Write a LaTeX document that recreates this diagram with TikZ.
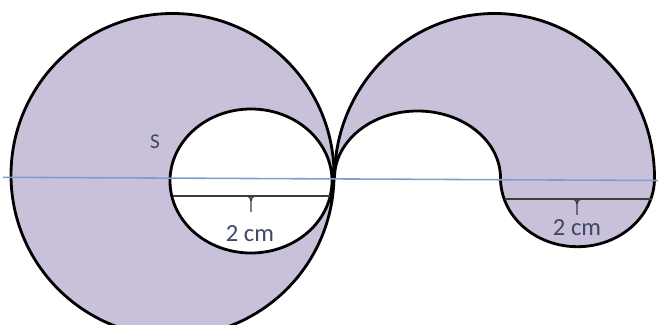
\documentclass[tikz,border=0pt]{standalone}
\usepackage{fontspec}
\setmainfont{Carlito}
\definecolor{ringfill}{HTML}{C9C0DA}
\definecolor{axisblue}{HTML}{7E9ED0}
\definecolor{radgrey}{HTML}{3C3C3C}
\definecolor{labtext}{HTML}{3D4766}

\begin{document}
\begin{tikzpicture}[x=0.02cm, y=0.02cm,
    region/.style={draw=black,line width=1.6pt,fill=ringfill},
    axis/.style={draw=axisblue,line width=0.9pt},
    rad/.style={draw=radgrey,line width=0.8pt},
    lbl/.style={text=labtext,inner sep=0pt,font=\fontsize{14}{16}\selectfont}]
    \useasboundingbox (0,0) rectangle (658,324);
    \clip (0,0) rectangle (658,324);
    % left ring and right band
    \path[region,even odd rule] (172.5,149) circle (161.5) (251,143) ellipse (81 and 72);
    \path[region] (334.5,146) arc[start angle=180,end angle=0,x radius=160,y radius=164.5]
        arc[start angle=0,end angle=-180,x radius=77,y radius=68.7]
        arc[start angle=0,end angle=180,x radius=83,y radius=67] -- cycle;
    \coordinate (al) at (3,146.7); \coordinate (ar) at (658,143.5);
    \draw[axis] (al) -- (ar);
    % radii
    \coordinate (la) at (173,128); \coordinate (lb) at (330,128); \coordinate (lm) at (251,128);
    \coordinate (ra) at (505,125); \coordinate (rb) at (652,125); \coordinate (rm) at (577,125);
    \draw[rad] (la) -- (lb); \draw[rad] (ra) -- (rb);
    \foreach \m in {lm,rm}{
      \draw[rad] (\m) ++(-4,0) to[out=0,in=90] ++(4,-5) -- ++(0,-11);
      \draw[rad] (\m) ++(4,0) to[out=180,in=90] ++(-4,-5);
    }
    \node[lbl] (llab) at (250,90.5) {2 cm};
    \node[lbl] (rlab) at (577,96) {2 cm};
    \node[lbl,font=\fontsize{12}{14}\selectfont] (s) at (155,182) {S};
  \end{tikzpicture}
\end{document}
